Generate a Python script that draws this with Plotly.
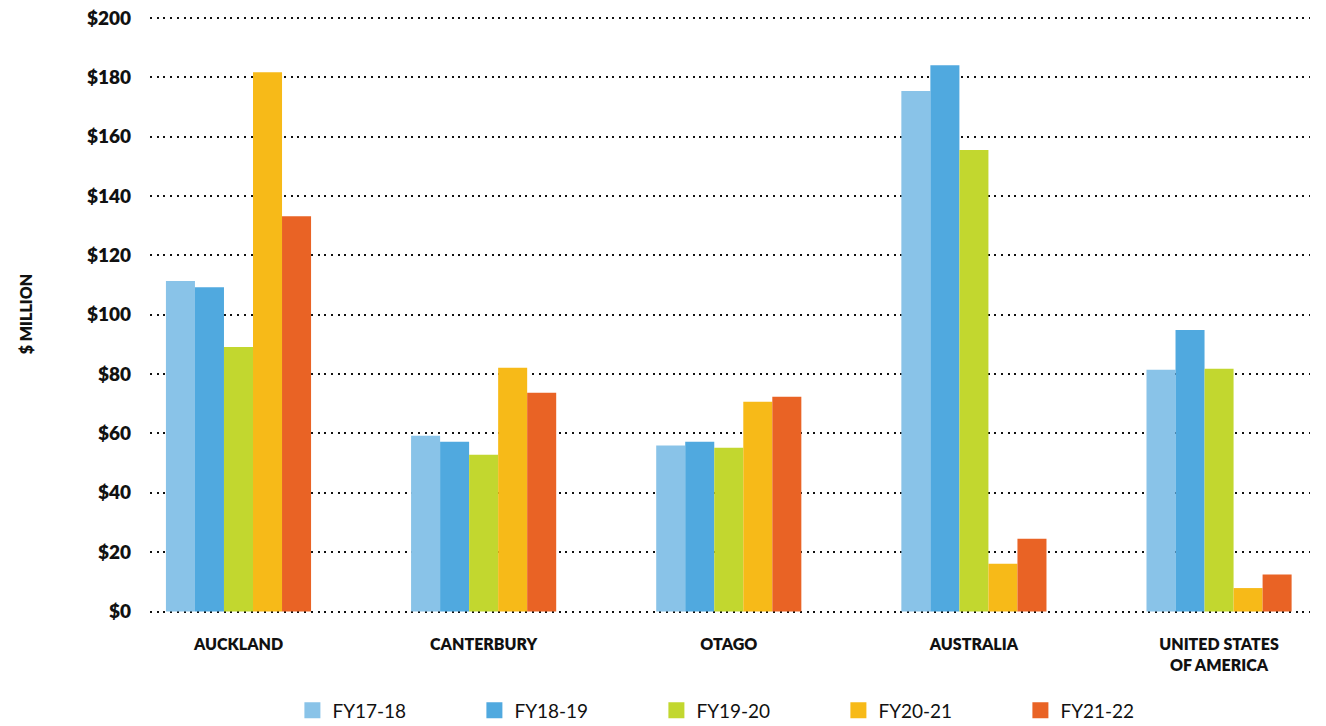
import plotly.graph_objects as go

# Regions and financial years
regions = ["AUCKLAND", "CANTERBURY", "OTAGO", "AUSTRALIA", "UNITED STATES<br>OF AMERICA"]
years = ["FY17-18", "FY18-19", "FY19-20", "FY20-21", "FY21-22"]

# Values in $ million, one list per financial year
fy17_18 = [111.4, 59.2, 55.9, 175.4, 81.5]
fy18_19 = [109.3, 57.2, 57.2, 184.1, 94.9]
fy19_20 = [89.1, 52.8, 55.2, 155.5, 81.8]
fy20_21 = [181.7, 82.1, 70.7, 16.1, 7.9]
fy21_22 = [133.2, 73.7, 72.4, 24.5, 12.5]

series = [fy17_18, fy18_19, fy19_20, fy20_21, fy21_22]
colors = ["#89C3E8", "#50A9DF", "#C2D72F", "#F7BA18", "#E96325"]

y_ticks = list(range(0, 201, 20))
y_tick_text = [f"${v}" for v in y_ticks]

FONT = "Lato"
INK = "#111111"

fig = go.Figure()
for name, vals, col in zip(years, series, colors):
    fig.add_trace(go.Bar(
        x=regions, y=vals, name=name, marker=dict(color=col, line=dict(width=0)),
        showlegend=False,
    ))
# Legend swatches as square markers
for name, col in zip(years, colors):
    fig.add_trace(go.Scatter(
        x=[None], y=[None], mode="markers", name=name,
        marker=dict(symbol="square", size=20, color=col),
    ))

fig.update_layout(
    width=1326, height=726,
    margin=dict(l=150, r=16, t=15, b=113, autoexpand=False),
    paper_bgcolor="white", plot_bgcolor="white",
    barmode="group", bargap=0.408, bargroupgap=0,
    font=dict(family=FONT, color=INK),
    legend=dict(
        orientation="h", x=0.515, xanchor="center", y=-0.163, yanchor="middle",
        font=dict(family=FONT, size=19, color=INK),
        itemsizing="trace", entrywidth=137, entrywidthmode="pixels",
    ),
    xaxis=dict(
        range=[-0.361, 4.371], showgrid=False, zeroline=False, showline=False,
        ticks="", ticklabelstandoff=20,
        tickfont=dict(family=FONT, size=16, color=INK, weight=800),
    ),
    yaxis=dict(
        range=[-0.5, 201], tickvals=y_ticks, ticktext=y_tick_text,
        showgrid=True, gridcolor=INK, gridwidth=2, griddash="2px,4.7px",
        zeroline=False, showline=False, ticks="", ticklabelstandoff=18,
        tickfont=dict(family=FONT, size=19, color=INK, weight=800),
        title=dict(text="$ MILLION", standoff=50,
                   font=dict(family=FONT, size=16, color=INK, weight=800)),
    ),
)

fig.write_html("out.html")
